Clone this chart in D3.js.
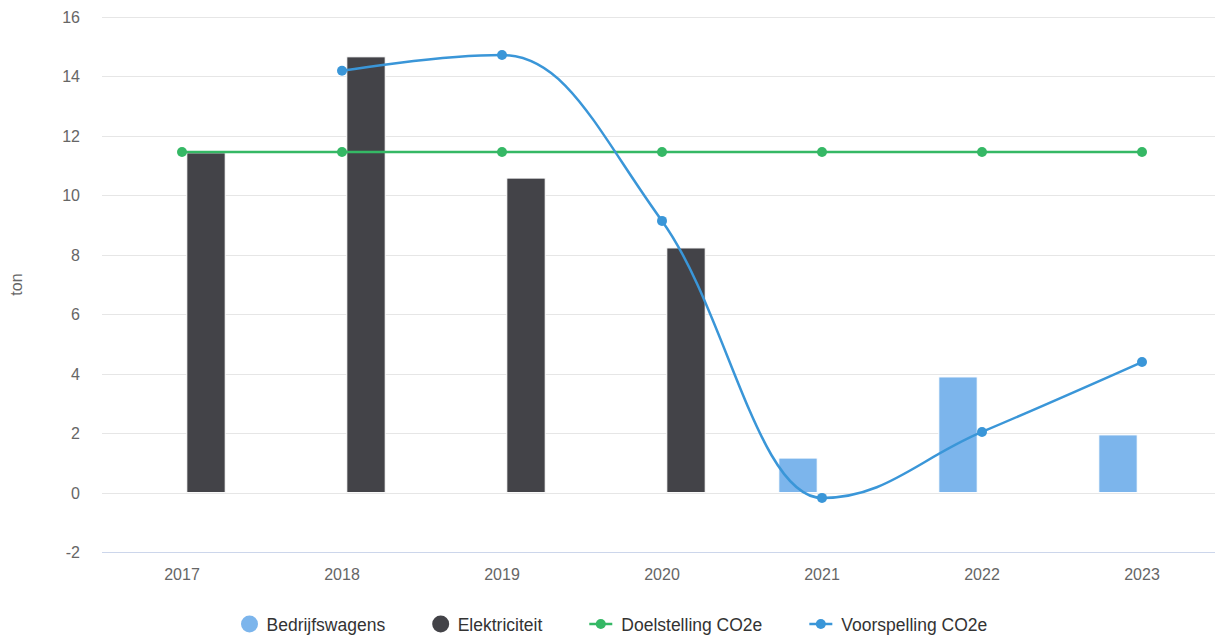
<!DOCTYPE html>
<html><head><meta charset="utf-8">
<script src="https://cdn.jsdelivr.net/npm/d3@7"></script>
<style>body{margin:0;background:#fff;} text{font-family:"Liberation Sans",Arial,sans-serif;}</style>
</head><body><svg id="c" width="1215" height="637"></svg>
<script>
const years = ["2017","2018","2019","2020","2021","2022","2023"];
const yTicks = [-2,0,2,4,6,8,10,12,14,16];
const bedrijfswagens = [null,null,null,null,1.16,3.89,1.94];
const elektriciteit = [11.43,14.66,10.58,8.23,null,null,null];
const doelstelling = [11.46,11.46,11.46,11.46,11.46,11.46,11.46];
const voorspelling = [null,14.19,14.72,9.14,-0.18,2.04,4.39];
const barSeries = ["Bedrijfswagens","Elektriciteit"];
const colors = {Bedrijfswagens:"#7cb5ec", Elektriciteit:"#434348", Doel:"#35b865", Voor:"#3a96d8"};

const svg = d3.select("#c");
const pLeft=102, pRight=1222, pTop=17, pBottom=552;
const x = d3.scaleBand().domain(years).range([pLeft,pRight]).padding(0);
const bw = x.bandwidth();
const x1 = d3.scaleBand().domain(barSeries).range([0.2*bw,0.8*bw]).paddingInner(0.2).paddingOuter(0.1);
const y = d3.scaleLinear().domain([-2,16]).range([pBottom,pTop]);

// grid
svg.append("g").selectAll("line").data(yTicks.filter(d=>d!==-2)).join("line")
  .attr("x1",pLeft).attr("x2",pRight).attr("y1",d=>Math.round(y(d))+0.5).attr("y2",d=>Math.round(y(d))+0.5)
  .attr("stroke","#e6e6e6").attr("stroke-width",1);
// y labels
svg.append("g").selectAll("text").data(yTicks).join("text")
  .attr("x",80).attr("y",d=>y(d)+6).attr("text-anchor","end")
  .attr("font-size",16).attr("fill","#666").text(d=>d);
// x axis line
svg.append("line").attr("x1",pLeft).attr("x2",pRight).attr("y1",pBottom+0.5).attr("y2",pBottom+0.5).attr("stroke","#ccd6eb");
svg.append("g").selectAll("text").data(years).join("text")
  .attr("x",d=>x(d)+bw/2).attr("y",580).attr("text-anchor","middle")
  .attr("font-size",16).attr("fill","#666").text(d=>d);
// y title
svg.append("text").attr("transform",`translate(21.5,${(pTop+pBottom)/2}) rotate(-90)`)
  .attr("text-anchor","middle").attr("font-size",16).attr("fill","#666").text("ton");

// bars
const barData = [];
years.forEach((yr,i)=>{
  if(bedrijfswagens[i]!=null) barData.push({yr,s:"Bedrijfswagens",v:bedrijfswagens[i]});
  if(elektriciteit[i]!=null) barData.push({yr,s:"Elektriciteit",v:elektriciteit[i]});
});
svg.append("g").selectAll("rect").data(barData).join("rect")
  .attr("x",d=>x(d.yr)+x1(d.s)).attr("width",x1.bandwidth())
  .attr("y",d=>Math.min(y(d.v),y(0))).attr("height",d=>Math.abs(y(0)-y(d.v)))
  .attr("fill",d=>colors[d.s]).attr("stroke","#fff").attr("stroke-width",1);

// Highcharts-like spline
function splinePath(pts){
  const s=1.5, den=s+1;
  let d=`M${pts[0].x},${pts[0].y}`;
  let prevRC=null;
  for(let i=1;i<pts.length;i++){
    const p=pts[i], lp=pts[i-1], np=pts[i+1];
    let lcx=p.x, lcy=p.y, rc=null;
    if(np){
      lcx=(s*p.x+lp.x)/den; lcy=(s*p.y+lp.y)/den;
      let rcx=(s*p.x+np.x)/den, rcy=(s*p.y+np.y)/den;
      let corr=0;
      if(rcx!==lcx) corr=((rcy-lcy)*(rcx-p.x))/(rcx-lcx)+p.y-rcy;
      lcy+=corr; rcy+=corr;
      if(lcy>lp.y&&lcy>p.y){lcy=Math.max(lp.y,p.y);rcy=2*p.y-lcy;}
      else if(lcy<lp.y&&lcy<p.y){lcy=Math.min(lp.y,p.y);rcy=2*p.y-lcy;}
      if(rcy>np.y&&rcy>p.y){rcy=Math.max(np.y,p.y);lcy=2*p.y-rcy;}
      else if(rcy<np.y&&rcy<p.y){rcy=Math.min(np.y,p.y);lcy=2*p.y-rcy;}
      rc={x:rcx,y:rcy};
    }
    const a=prevRC||lp;
    d+=`C${a.x},${a.y} ${lcx},${lcy} ${p.x},${p.y}`;
    prevRC=rc;
  }
  return d;
}

function lineSeries(vals,color,spline){
  const pts=[];
  vals.forEach((v,i)=>{ if(v!=null) pts.push({x:x(years[i])+bw/2,y:y(v)}); });
  const g=svg.append("g");
  if(spline) g.append("path").attr("d",splinePath(pts)).attr("fill","none").attr("stroke",color).attr("stroke-width",2.5);
  else g.append("path").attr("d",d3.line().x(p=>p.x).y(p=>p.y)(pts)).attr("fill","none").attr("stroke",color).attr("stroke-width",2.5);
  g.selectAll("circle").data(pts).join("circle").attr("cx",p=>p.x).attr("cy",p=>p.y).attr("r",5).attr("fill",color);
}
lineSeries(doelstelling,colors.Doel,false);
lineSeries(voorspelling,colors.Voor,true);

// legend
const legendItems=[
  {name:"Bedrijfswagens",type:"bar",color:colors.Bedrijfswagens},
  {name:"Elektriciteit",type:"bar",color:colors.Elektriciteit},
  {name:"Doelstelling CO2e",type:"line",color:colors.Doel},
  {name:"Voorspelling CO2e",type:"line",color:colors.Voor}
];
let lx=241; const ly=624;
legendItems.forEach(it=>{
  const g=svg.append("g");
  let tx;
  if(it.type==="bar"){
    g.append("circle").attr("cx",lx+8.5).attr("cy",ly).attr("r",8.5).attr("fill",it.color);
    tx=lx+25.5;
  } else {
    g.append("line").attr("x1",lx).attr("x2",lx+23).attr("y1",ly).attr("y2",ly).attr("stroke",it.color).attr("stroke-width",2.5);
    g.append("circle").attr("cx",lx+11.5).attr("cy",ly).attr("r",5).attr("fill",it.color);
    tx=lx+32;
  }
  const t=g.append("text").attr("x",tx).attr("y",ly+6.5).attr("font-size",17.5).attr("fill","#333").text(it.name);
  lx=tx+t.node().getComputedTextLength()+47;
});
</script></body></html>
